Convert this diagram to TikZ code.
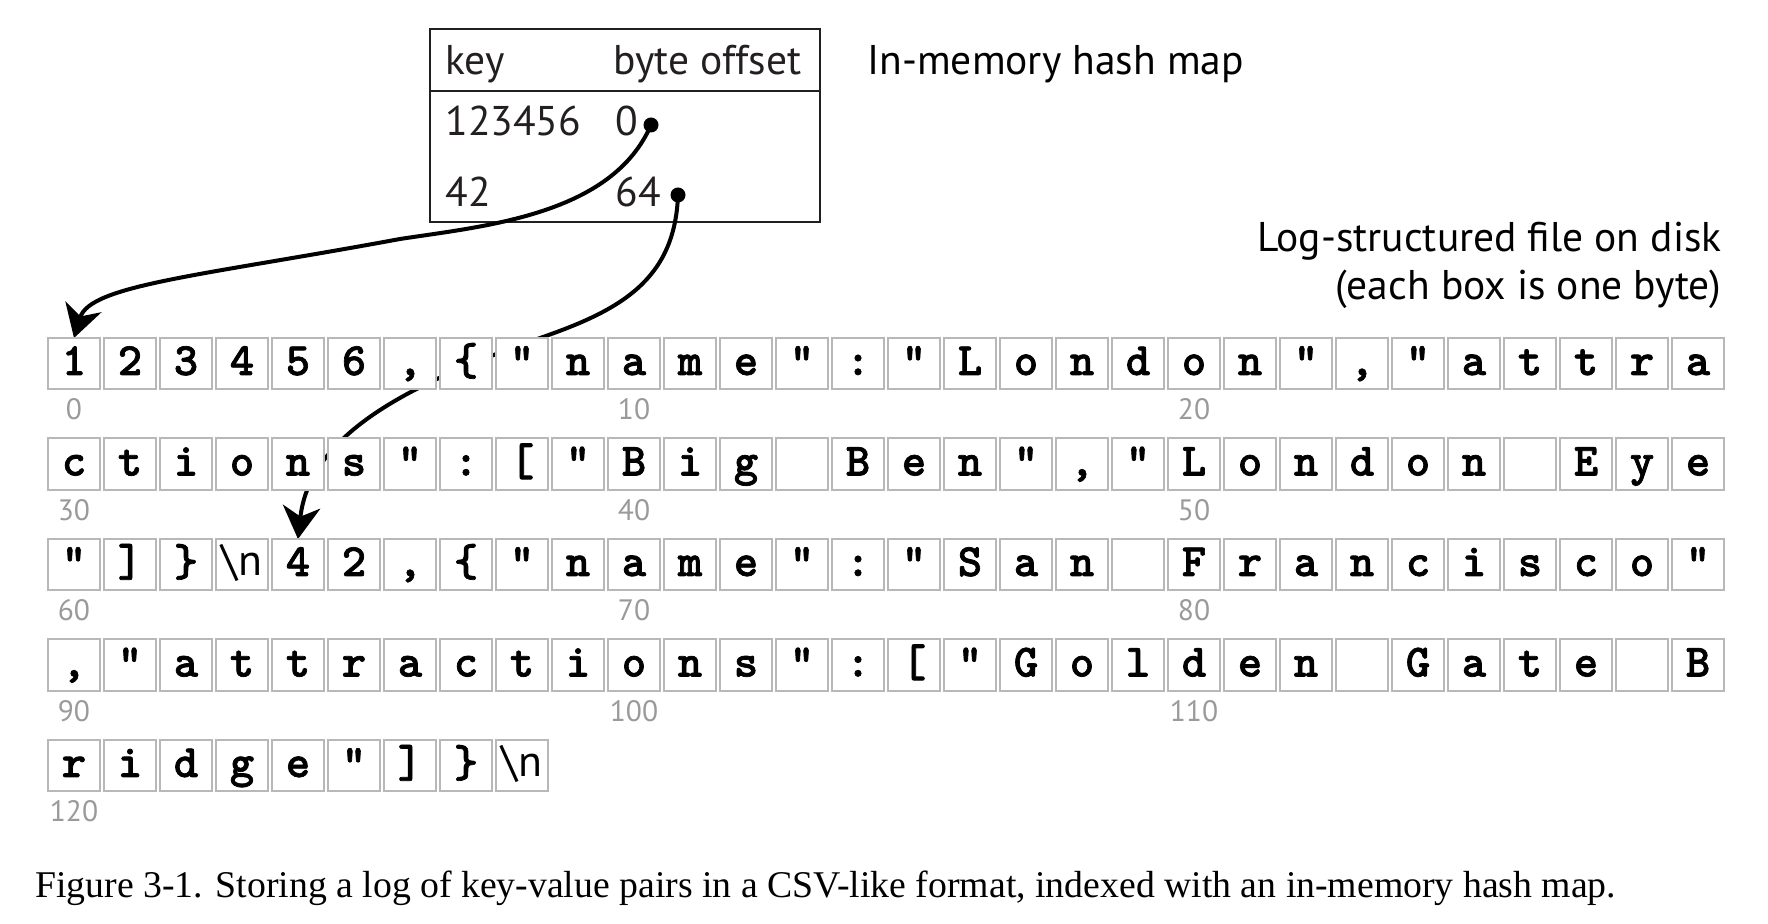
\documentclass[tikz,border=0pt]{standalone}
\usepackage{fontspec}
\setmainfont{Liberation Serif}
\newfontfamily\sansf{PT Sans}
\newfontfamily\monof{lmmonolt10-bold.otf}[FakeBold=1.5]
\usetikzlibrary{arrows.meta}
\definecolor{cellgray}{HTML}{B8B8B8}
\definecolor{lblgray}{HTML}{9A9A9A}
\definecolor{ink}{HTML}{231F20}
\newcommand\bytebox[2]{\node[cell] (b#1) at ({74+56*mod(#1,30)},{363.75+100.5*floor(#1/30)}) {#2};}
\newcommand\bytelabel[1]{\node[lbl] (l#1) at ({74+56*mod(#1,30)},{420+100.5*floor(#1/30)}) {#1};}
\newcommand\nlchar{{\sansf\fontsize{17.5}{19}\selectfont\textbackslash n}}
\begin{document}
\begin{tikzpicture}[x=0.4pt,y=-0.4pt,
  cell/.style={draw=cellgray, line width=0.8pt, fill=white, minimum width=20.7pt, minimum height=20.6pt,
    inner sep=0pt, text height=13pt, text depth=4pt, font=\monof\fontsize{18.5}{20}\selectfont},
  lbl/.style={anchor=base, text=lblgray, inner sep=0pt, font=\sansf\fontsize{11.8}{13}\selectfont},
  tbl/.style={anchor=base west, inner sep=0pt, text=ink, font=\sansf\fontsize{16.6}{19}\selectfont},
  head/.style={inner sep=0pt, text=black, font=\sansf\fontsize{16.6}{19}\selectfont},
  dot/.style={circle, fill=black, inner sep=0pt, minimum size=6pt},
  ptr/.style={line width=1.6pt, -{Stealth[length=13pt,width=15pt,inset=4pt]}}]
\fill[white] (0,0) rectangle (1768,924);
\useasboundingbox (0,0) rectangle (1768,924);

% hash map table
\draw[ink, line width=1pt] (430,29) rectangle (820,222);
\draw[ink, line width=1pt] (430,91) -- (820,91);
\node[tbl] (hkey) at (445,75) {key};
\node[tbl, anchor=base east] (hoff) at (802,75) {byte offset};
\node[tbl] (k1) at (445,136) {123456};
\node[tbl] (v1) at (615,136) {0};
\node[tbl] (k2) at (445,207) {42};
\node[tbl] (v2) at (615,207) {64};
\node[dot] (d0) at (651,125) {};
\node[dot] (d64) at (678,195) {};

\node[head, anchor=base west] (title1) at (867,75) {In-memory hash map};
\node[head, anchor=base east] (title2) at (1722,252) {Log-structured file on disk};
\node[head, anchor=base east] (title3) at (1722,300) {(each box is one byte)};

% target coordinates
\coordinate (b0top) at (74,338);
\coordinate (b64top) at (298,539);
\coordinate (m1) at (400,239);
\coordinate (m2) at (543,337);

% pointers (drawn before the byte boxes, which cover them)
\draw[ptr] (d0.center) .. controls (612,215) and (485,226) .. (m1)
   .. controls (200,276) and (90,285) .. (b0top);
\draw[ptr] (d64.center) .. controls (675,280) and (620,310) .. (m2)
   .. controls (420,380) and (310,430) .. (b64top);

% row 0
\bytebox{0}{1}\bytebox{1}{2}\bytebox{2}{3}\bytebox{3}{4}\bytebox{4}{5}\bytebox{5}{6}
\bytebox{6}{,}\bytebox{7}{\{}\bytebox{8}{"}\bytebox{9}{n}\bytebox{10}{a}\bytebox{11}{m}
\bytebox{12}{e}\bytebox{13}{"}\bytebox{14}{:}\bytebox{15}{"}\bytebox{16}{L}\bytebox{17}{o}
\bytebox{18}{n}\bytebox{19}{d}\bytebox{20}{o}\bytebox{21}{n}\bytebox{22}{"}\bytebox{23}{,}
\bytebox{24}{"}\bytebox{25}{a}\bytebox{26}{t}\bytebox{27}{t}\bytebox{28}{r}\bytebox{29}{a}
% row 1
\bytebox{30}{c}\bytebox{31}{t}\bytebox{32}{i}\bytebox{33}{o}\bytebox{34}{n}\bytebox{35}{s}
\bytebox{36}{"}\bytebox{37}{:}\bytebox{38}{[}\bytebox{39}{"}\bytebox{40}{B}\bytebox{41}{i}
\bytebox{42}{g}\bytebox{43}{}\bytebox{44}{B}\bytebox{45}{e}\bytebox{46}{n}\bytebox{47}{"}
\bytebox{48}{,}\bytebox{49}{"}\bytebox{50}{L}\bytebox{51}{o}\bytebox{52}{n}\bytebox{53}{d}
\bytebox{54}{o}\bytebox{55}{n}\bytebox{56}{}\bytebox{57}{E}\bytebox{58}{y}\bytebox{59}{e}
% row 2
\bytebox{60}{"}\bytebox{61}{]}\bytebox{62}{\}}\bytebox{63}{\nlchar}\bytebox{64}{4}\bytebox{65}{2}
\bytebox{66}{,}\bytebox{67}{\{}\bytebox{68}{"}\bytebox{69}{n}\bytebox{70}{a}\bytebox{71}{m}
\bytebox{72}{e}\bytebox{73}{"}\bytebox{74}{:}\bytebox{75}{"}\bytebox{76}{S}\bytebox{77}{a}
\bytebox{78}{n}\bytebox{79}{}\bytebox{80}{F}\bytebox{81}{r}\bytebox{82}{a}\bytebox{83}{n}
\bytebox{84}{c}\bytebox{85}{i}\bytebox{86}{s}\bytebox{87}{c}\bytebox{88}{o}\bytebox{89}{"}
% row 3
\bytebox{90}{,}\bytebox{91}{"}\bytebox{92}{a}\bytebox{93}{t}\bytebox{94}{t}\bytebox{95}{r}
\bytebox{96}{a}\bytebox{97}{c}\bytebox{98}{t}\bytebox{99}{i}\bytebox{100}{o}\bytebox{101}{n}
\bytebox{102}{s}\bytebox{103}{"}\bytebox{104}{:}\bytebox{105}{[}\bytebox{106}{"}\bytebox{107}{G}
\bytebox{108}{o}\bytebox{109}{l}\bytebox{110}{d}\bytebox{111}{e}\bytebox{112}{n}\bytebox{113}{}
\bytebox{114}{G}\bytebox{115}{a}\bytebox{116}{t}\bytebox{117}{e}\bytebox{118}{}\bytebox{119}{B}
% row 4
\bytebox{120}{r}\bytebox{121}{i}\bytebox{122}{d}\bytebox{123}{g}\bytebox{124}{e}\bytebox{125}{"}
\bytebox{126}{]}\bytebox{127}{\}}\bytebox{128}{\nlchar}

% offsets
\bytelabel{0}\bytelabel{10}\bytelabel{20}
\bytelabel{30}\bytelabel{40}\bytelabel{50}
\bytelabel{60}\bytelabel{70}\bytelabel{80}
\bytelabel{90}\bytelabel{100}\bytelabel{110}
\bytelabel{120}

% caption
\node[anchor=base west, inner sep=0pt, font=\fontsize{15.1}{17}\selectfont] (cap) at (35,898)
  {Figure 3-1. Storing a log of key-value pairs in a CSV-like format, indexed with an in-memory hash map.};
\end{tikzpicture}
\end{document}
